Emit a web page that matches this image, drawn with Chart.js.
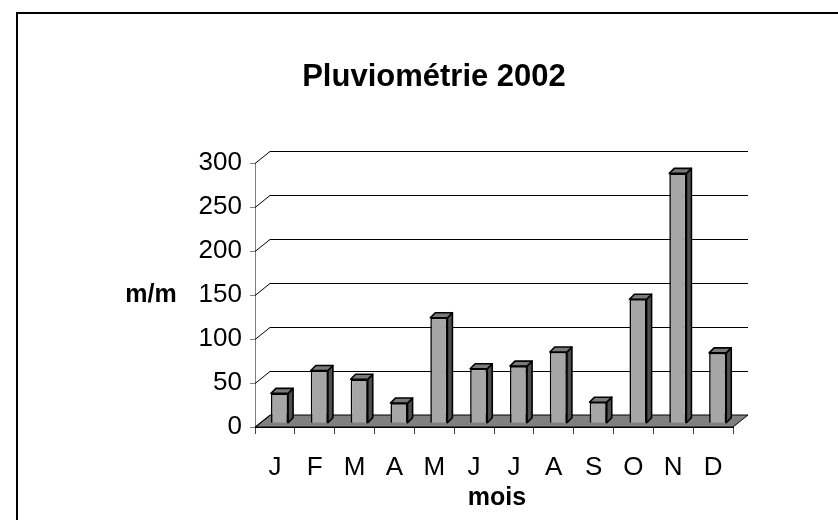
<!DOCTYPE html>
<html>
<head>
<meta charset="utf-8">
<script src="https://cdn.jsdelivr.net/npm/chart.js@4.4.1/dist/chart.umd.min.js"></script>
<style>
  html, body { margin: 0; padding: 0; background: #fff; }
  #wrap { width: 838px; height: 520px; position: relative; }
</style>
</head>
<body>
<div id="wrap"><canvas id="c" width="838" height="520"></canvas></div>
<script>
const chartTitle = 'Pluviométrie 2002';
const yAxisTitle = 'm/m';
const xAxisTitle = 'mois';
const months = ['J', 'F', 'M', 'A', 'M', 'J', 'J', 'A', 'S', 'O', 'N', 'D'];
const rainfall = [34, 60, 50, 23, 120, 62, 65, 81, 24, 141, 284, 80];
const yMin = 0, yMax = 300, yStep = 50;

const FONT = "'Liberation Sans', Arial, sans-serif";
const DEPTH_X = 15, DEPTH_Y = -12;      // back wall offset
const BAR_SHIFT_X = 4.6, BAR_SHIFT_Y = -3.7; // bars sit inside the depth
const BAR_DX = 5, BAR_DY = -5;          // bar thickness

const threeD = {
  id: 'threeD',
  beforeDraw(chart) {
    const ctx = chart.ctx;
    ctx.save();
    ctx.fillStyle = '#fff';
    ctx.fillRect(0, 0, chart.width, chart.height);
    ctx.strokeStyle = '#000';
    ctx.lineWidth = 2;
    ctx.strokeRect(17, 13, chart.width + 20, chart.height + 20);
    // titles
    ctx.fillStyle = '#000';
    ctx.textAlign = 'center';
    ctx.textBaseline = 'middle';
    ctx.font = 'bold 31px ' + FONT;
    ctx.fillText(chartTitle, 434, 77);
    ctx.font = 'bold 25px ' + FONT;
    ctx.fillText(yAxisTitle, 151, 295);
    ctx.fillText(xAxisTitle, 497, 498);
    ctx.restore();
  },
  beforeDatasetsDraw(chart) {
    const ctx = chart.ctx;
    const y = chart.scales.y;
    const a = chart.chartArea;
    ctx.save();
    // floor
    const y0 = y.getPixelForValue(0);
    ctx.beginPath();
    ctx.moveTo(a.left, y0);
    ctx.lineTo(a.right, y0);
    ctx.lineTo(a.right + DEPTH_X, y0 + DEPTH_Y);
    ctx.lineTo(a.left + DEPTH_X, y0 + DEPTH_Y);
    ctx.closePath();
    ctx.fillStyle = '#808080';
    ctx.fill();
    ctx.strokeStyle = '#000';
    ctx.lineWidth = 1;
    ctx.stroke();
    // back wall gridlines and diagonals
    for (let v = yMin; v <= yMax; v += yStep) {
      const py = Math.round(y.getPixelForValue(v)) + 0.5;
      ctx.beginPath();
      ctx.moveTo(a.left, py);
      ctx.lineTo(a.left + DEPTH_X, py + DEPTH_Y);
      if (v > 0) ctx.lineTo(a.right + DEPTH_X, py + DEPTH_Y);
      ctx.strokeStyle = '#000';
      ctx.lineWidth = 1;
      ctx.stroke();
    }
    ctx.restore();
    ctx.save();
    ctx.translate(BAR_SHIFT_X, BAR_SHIFT_Y);
  },
  afterDatasetsDraw(chart) {
    const ctx = chart.ctx;
    const meta = chart.getDatasetMeta(0);
    meta.data.forEach(bar => {
      const p = bar.getProps(['x', 'y', 'base', 'width']);
      const l = p.x - p.width / 2, r = p.x + p.width / 2;
      ctx.lineWidth = 1.6;
      ctx.strokeStyle = '#000';
      ctx.lineJoin = 'round';
      // side face
      ctx.beginPath();
      ctx.moveTo(r, p.y);
      ctx.lineTo(r + BAR_DX, p.y + BAR_DY);
      ctx.lineTo(r + BAR_DX, p.base + BAR_DY);
      ctx.lineTo(r, p.base);
      ctx.closePath();
      ctx.fillStyle = '#4f4f4f';
      ctx.fill();
      ctx.stroke();
      // top face
      ctx.beginPath();
      ctx.moveTo(l, p.y);
      ctx.lineTo(l + BAR_DX, p.y + BAR_DY);
      ctx.lineTo(r + BAR_DX, p.y + BAR_DY);
      ctx.lineTo(r, p.y);
      ctx.closePath();
      ctx.fillStyle = '#7a7a7a';
      ctx.fill();
      ctx.stroke();
    });
    ctx.restore();
  }
};

new Chart(document.getElementById('c'), {
  type: 'bar',
  data: {
    labels: months,
    datasets: [{
      data: rainfall,
      backgroundColor: '#a6a6a6',
      borderColor: '#000',
      borderWidth: 1.6,
      categoryPercentage: 1,
      barPercentage: 0.43
    }]
  },
  options: {
    responsive: false,
    animation: false,
    devicePixelRatio: 1,
    layout: { padding: { top: 163, right: 105, bottom: 0, left: 0 } },
    plugins: { legend: { display: false }, title: { display: false }, tooltip: { enabled: false } },
    scales: {
      x: {
        type: 'category',
        offset: true,
        afterFit(s) { s.height = 93; },
        grid: { offset: true, drawOnChartArea: false, drawTicks: true, tickLength: 7, color: '#404040' },
        border: { display: true, color: '#000' },
        ticks: { color: '#000', font: { family: FONT, size: 26 }, padding: 18, maxRotation: 0, autoSkip: false }
      },
      y: {
        min: yMin, max: yMax,
        afterFit(s) { s.width = 255; },
        grid: { drawOnChartArea: false, drawTicks: true, tickLength: 5, color: '#808080' },
        border: { display: true, color: '#808080' },
        ticks: { stepSize: yStep, color: '#000', font: { family: FONT, size: 26 }, padding: 8 }
      }
    }
  },
  plugins: [threeD]
});
</script>
</body>
</html>
